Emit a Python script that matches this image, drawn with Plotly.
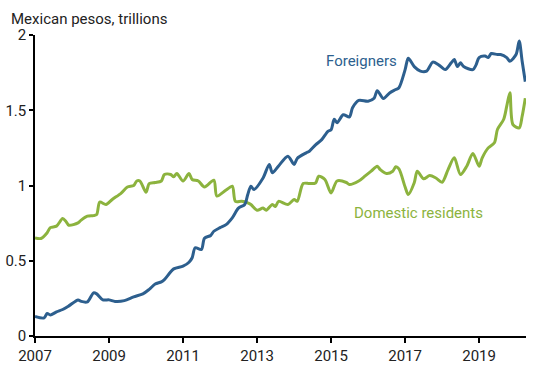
import plotly.graph_objects as go

foreign_dates = [
    "2007-01-01", "2007-04-01", "2007-05-01", "2007-06-01", "2007-08-01", "2007-10-01", "2007-12-01",
    "2008-03-01", "2008-04-01", "2008-06-01", "2008-08-01", "2008-09-01", "2008-11-01",
    "2009-01-01", "2009-03-01", "2009-06-01", "2009-09-01", "2009-12-01",
    "2010-02-01", "2010-04-01", "2010-06-01", "2010-07-01", "2010-10-01",
    "2011-01-01", "2011-03-01", "2011-04-01", "2011-05-01", "2011-07-01", "2011-08-01", "2011-10-01", "2011-11-01",
    "2012-01-01", "2012-03-01", "2012-05-01", "2012-07-01", "2012-09-01", "2012-10-01", "2012-11-01", "2012-12-01",
    "2013-03-01", "2013-05-01", "2013-06-01", "2013-08-01", "2013-11-01",
    "2014-01-01", "2014-02-01", "2014-05-01", "2014-06-01", "2014-08-01", "2014-10-01", "2014-12-01",
    "2015-01-01", "2015-02-01", "2015-03-01", "2015-05-01", "2015-07-01", "2015-08-01", "2015-10-01",
    "2016-01-01", "2016-03-01", "2016-04-01", "2016-06-01", "2016-08-01", "2016-10-01", "2016-11-01",
    "2017-01-01", "2017-02-01", "2017-04-01", "2017-06-01", "2017-08-01", "2017-10-01", "2017-12-01",
    "2018-02-01", "2018-04-01", "2018-05-01", "2018-06-01", "2018-07-01", "2018-08-01", "2018-11-01", "2018-12-01",
    "2019-01-01", "2019-03-01", "2019-04-01", "2019-05-01", "2019-07-01", "2019-08-01", "2019-10-01", "2019-11-01",
    "2020-01-01", "2020-02-01", "2020-03-01", "2020-04-01",
]
foreign_values = [
    0.13, 0.12, 0.15, 0.14, 0.16, 0.176, 0.20,
    0.24, 0.23, 0.227, 0.287, 0.28, 0.24,
    0.24, 0.23, 0.235, 0.26, 0.28,
    0.31, 0.345, 0.36, 0.375, 0.446,
    0.464, 0.49, 0.52, 0.586, 0.575, 0.65, 0.668, 0.696,
    0.72, 0.74, 0.785, 0.85, 0.874, 0.94, 0.995, 0.973,
    1.05, 1.14, 1.085, 1.13, 1.195,
    1.14, 1.18, 1.217, 1.228, 1.27, 1.305, 1.36,
    1.37, 1.44, 1.417, 1.47, 1.456, 1.516, 1.565,
    1.56, 1.58, 1.63, 1.578, 1.615, 1.638, 1.65,
    1.77, 1.845, 1.79, 1.76, 1.76, 1.82, 1.80,
    1.77, 1.815, 1.837, 1.79, 1.815, 1.79, 1.77, 1.80,
    1.85, 1.86, 1.85, 1.877, 1.87, 1.87, 1.85, 1.826,
    1.87, 1.96, 1.826, 1.69,
]

domestic_dates = [
    "2007-01-01", "2007-03-01", "2007-05-01", "2007-06-01", "2007-08-01", "2007-10-01", "2007-11-01", "2007-12-01",
    "2008-03-01", "2008-04-01", "2008-06-01", "2008-08-01", "2008-09-01", "2008-10-01", "2008-12-01",
    "2009-02-01", "2009-05-01", "2009-07-01", "2009-09-01", "2009-10-01", "2009-11-01",
    "2010-01-01", "2010-02-01", "2010-04-01", "2010-06-01", "2010-07-01", "2010-09-01", "2010-10-01", "2010-11-01",
    "2011-01-01", "2011-03-01", "2011-04-01", "2011-06-01", "2011-08-01", "2011-11-01", "2011-12-01",
    "2012-03-01", "2012-05-01", "2012-06-01", "2012-08-01", "2012-10-01", "2012-11-01",
    "2013-01-01", "2013-03-01", "2013-04-01", "2013-06-01", "2013-07-01", "2013-08-01", "2013-11-01",
    "2014-01-01", "2014-02-01", "2014-04-01", "2014-06-01", "2014-08-01", "2014-09-01", "2014-11-01",
    "2015-01-01", "2015-03-01", "2015-06-01", "2015-07-01", "2015-10-01", "2015-12-01",
    "2016-02-01", "2016-04-01", "2016-05-01", "2016-07-01", "2016-09-01", "2016-10-01", "2016-11-01",
    "2017-01-01", "2017-02-01", "2017-04-01", "2017-05-01", "2017-07-01", "2017-09-01", "2017-11-01",
    "2018-01-01", "2018-03-01", "2018-05-01", "2018-07-01", "2018-09-01", "2018-11-01",
    "2019-01-01", "2019-02-01", "2019-04-01", "2019-06-01", "2019-07-01", "2019-09-01", "2019-10-01", "2019-11-01", "2019-12-01",
    "2020-02-01", "2020-03-01", "2020-04-01",
]
domestic_values = [
    0.652, 0.648, 0.686, 0.72, 0.73, 0.78, 0.763, 0.736,
    0.752, 0.77, 0.796, 0.80, 0.807, 0.89, 0.874,
    0.907, 0.95, 0.99, 1.0, 1.03, 1.03,
    0.955, 1.013, 1.02, 1.03, 1.073, 1.073, 1.058, 1.08,
    1.03, 1.08, 1.04, 1.03, 0.99, 1.035, 0.93,
    0.97, 0.995, 0.895, 0.895, 0.885, 0.874,
    0.836, 0.85, 0.836, 0.874, 0.86, 0.895, 0.874,
    0.907, 0.895, 1.013, 1.013, 1.017, 1.062, 1.04,
    0.95, 1.03, 1.02, 1.006, 1.03, 1.062,
    1.095, 1.128, 1.105, 1.08, 1.095, 1.124, 1.11,
    0.99, 0.94, 1.018, 1.095, 1.045, 1.066, 1.05,
    1.022, 1.106, 1.184, 1.073, 1.128, 1.213,
    1.128, 1.184, 1.25, 1.284, 1.372, 1.44, 1.527, 1.616, 1.405,
    1.383, 1.46, 1.58,
]

year_ticks = ["2007-01-01", "2009-01-01", "2011-01-01", "2013-01-01", "2015-01-01", "2017-01-01", "2019-01-01"]
year_labels = ["2007", "2009", "2011", "2013", "2015", "2017", "2019"]
y_ticks = [0, 0.5, 1, 1.5, 2]
y_labels = ["0", "0.5", "1", "1.5", "2"]

BLUE = "#2d5f8e"
GREEN = "#8cb33e"

fig = go.Figure()
fig.add_trace(go.Scatter(x=domestic_dates, y=domestic_values, mode="lines",
                         line=dict(color=GREEN, width=3, shape="spline", smoothing=0.8),
                         name="Domestic residents", hoverinfo="skip"))
fig.add_trace(go.Scatter(x=foreign_dates, y=foreign_values, mode="lines",
                         line=dict(color=BLUE, width=3, shape="spline", smoothing=0.8),
                         name="Foreigners", hoverinfo="skip"))

fig.add_annotation(x="2015-11-01", y=1.83, text="Foreigners", showarrow=False,
                   font=dict(color=BLUE, size=15, family="Roboto"))
fig.add_annotation(x="2017-05-10", y=0.82, text="Domestic residents", showarrow=False,
                   font=dict(color=GREEN, size=15, family="Roboto"))
fig.add_annotation(x=0, xref="paper", xanchor="left", xshift=-26, y=1, yref="paper",
                   yanchor="bottom", yshift=5, text="Mexican pesos, trillions", showarrow=False,
                   font=dict(color="#222222", size=15, family="Roboto"))

fig.update_layout(
    width=550, height=365,
    margin=dict(l=35, r=24, t=35, b=28.5, autoexpand=False),
    paper_bgcolor="white", plot_bgcolor="white",
    showlegend=False,
    font=dict(family="Roboto", size=15, color="#222222"),
    xaxis=dict(range=["2007-01-01", "2020-04-08"], tickvals=year_ticks, ticktext=year_labels,
               showgrid=False, zeroline=False, showline=True, linecolor="black", linewidth=1.5,
               ticks="outside", ticklen=5, tickcolor="black", tickwidth=1.5, automargin=False),
    yaxis=dict(range=[0, 2], tickvals=y_ticks, ticktext=y_labels,
               showgrid=False, zeroline=False, showline=True, linecolor="black", linewidth=1.5,
               ticks="outside", ticklen=4, tickcolor="black", tickwidth=1.5, automargin=False),
)

fig.write_html("out.html", config={"displayModeBar": False},
               post_script="document.body.style.margin='0';document.body.style.padding='0';")
